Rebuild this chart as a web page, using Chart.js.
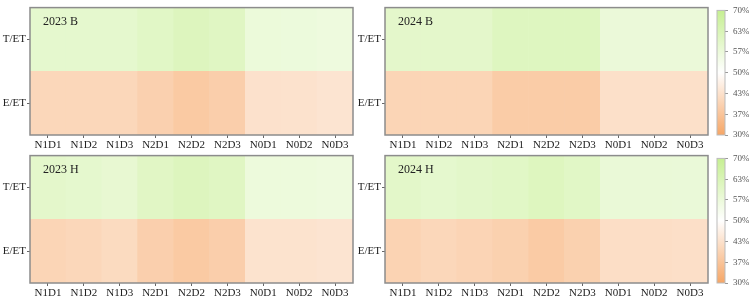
<!DOCTYPE html>
<html lang="en">
<head>
    <meta charset="UTF-8">
    <title>T/ET and E/ET heatmaps</title>
    <script src="https://cdn.jsdelivr.net/npm/chart.js"></script>
    <style>
        body {
            margin: 0;
            background: white;
            width: 749px;
            height: 300px;
            position: relative;
            overflow: hidden;
        }
        .box {
            position: absolute;
        }
    </style>
</head>
<body>
    <div class="box" style="left:0;top:0;width:360px;height:152px"><canvas id="c2023B"></canvas></div>
    <div class="box" style="left:355px;top:0;width:360px;height:152px"><canvas id="c2024B"></canvas></div>
    <div class="box" style="left:0;top:148px;width:360px;height:152px"><canvas id="c2023H"></canvas></div>
    <div class="box" style="left:355px;top:148px;width:360px;height:152px"><canvas id="c2024H"></canvas></div>
    <div class="box" style="left:710px;top:0;width:39px;height:152px"><canvas id="cbTop"></canvas></div>
    <div class="box" style="left:710px;top:148px;width:39px;height:152px"><canvas id="cbBottom"></canvas></div>
    <script>
        const treatments = ['N1D1', 'N1D2', 'N1D3', 'N2D1', 'N2D2', 'N2D3', 'N0D1', 'N0D2', 'N0D3'];
        const rowLabels = ['E/ET', 'T/ET'];

        // ratios
        const tet2023B = [0.59, 0.59, 0.59, 0.605, 0.62, 0.61, 0.567, 0.565, 0.56];
        const eet2023B = [0.41, 0.41, 0.41, 0.395, 0.38, 0.39, 0.433, 0.435, 0.44];
        const tet2024B = [0.595, 0.595, 0.595, 0.615, 0.615, 0.615, 0.57, 0.57, 0.57];
        const eet2024B = [0.405, 0.405, 0.405, 0.385, 0.385, 0.385, 0.43, 0.43, 0.43];
        const tet2023H = [0.595, 0.59, 0.582, 0.607, 0.62, 0.61, 0.564, 0.564, 0.56];
        const eet2023H = [0.405, 0.41, 0.418, 0.393, 0.38, 0.39, 0.436, 0.436, 0.44];
        const tet2024H = [0.60, 0.59, 0.597, 0.604, 0.617, 0.604, 0.574, 0.574, 0.572];
        const eet2024H = [0.40, 0.41, 0.403, 0.396, 0.383, 0.396, 0.426, 0.426, 0.428];

        const cbMin = 30, cbMax = 70;
        const cbTickLabels = ['30%', '37%', '43%', '50%', '57%', '63%', '70%'];

        const orange = [246, 166, 102];
        const white = [255, 255, 255];
        const green = [198, 239, 146];
        const serif = '"Liberation Serif", "DejaVu Serif", serif';

        function mix(a, b, t) {
            return 'rgb(' + a.map((v, i) => Math.round(v + (b[i] - v) * t)).join(',') + ')';
        }
        function ratioColor(r) {
            const p = r * 100;
            if (p <= 50) return mix(white, orange, Math.min(1, (50 - p) / 20));
            return mix(white, green, Math.min(1, (p - 50) / 20));
        }

        const framePlugin = {
            id: 'frame',
            afterDatasetsDraw(chart, args, opts) {
                const a = chart.chartArea;
                const ctx = chart.ctx;
                ctx.save();
                ctx.strokeStyle = opts.color || '#8c8c8c';
                ctx.lineWidth = opts.width || 1.5;
                ctx.strokeRect(a.left, a.top, a.right - a.left, a.bottom - a.top);
                if (opts.text) {
                    ctx.fillStyle = '#222';
                    ctx.font = '12px ' + serif;
                    ctx.textBaseline = 'alphabetic';
                    ctx.fillText(opts.text, a.left + 13, a.top + 17);
                }
                ctx.restore();
            }
        };

        function heatmap(id, title, tet, eet) {
            new Chart(document.getElementById(id), {
                type: 'bar',
                data: {
                    labels: treatments,
                    datasets: [
                        {
                            label: rowLabels[0],
                            data: eet.map(() => [0, 1]),
                            backgroundColor: eet.map(ratioColor),
                            borderWidth: 0,
                            barPercentage: 1,
                            categoryPercentage: 1
                        },
                        {
                            label: rowLabels[1],
                            data: tet.map(() => [1, 2]),
                            backgroundColor: tet.map(ratioColor),
                            borderWidth: 0,
                            barPercentage: 1,
                            categoryPercentage: 1
                        }
                    ]
                },
                options: {
                    responsive: true,
                    maintainAspectRatio: false,
                    animation: false,
                    layout: { padding: { top: 7, right: 7, left: 0, bottom: 0 } },
                    plugins: {
                        legend: { display: false },
                        tooltip: { enabled: false },
                        frame: { text: title }
                    },
                    scales: {
                        x: {
                            stacked: true,
                            grid: { offset: false, drawOnChartArea: false, tickLength: 3, color: '#666' },
                            border: { display: false },
                            ticks: { color: '#222', padding: 1, maxRotation: 0, font: { family: serif, size: 11 } },
                            afterFit(scale) { scale.height = 17; }
                        },
                        y: {
                            stacked: false,
                            min: 0,
                            max: 2,
                            grid: { drawOnChartArea: false, tickLength: 3, color: '#666' },
                            border: { display: false },
                            afterBuildTicks(scale) { scale.ticks = [{ value: 0.5 }, { value: 1.5 }]; },
                            ticks: {
                                color: '#222',
                                padding: 1,
                                font: { family: serif, size: 11 },
                                callback: v => rowLabels[v > 1 ? 1 : 0]
                            },
                            afterFit(scale) { scale.width = 30; }
                        }
                    }
                },
                plugins: [framePlugin]
            });
        }

        function colorbar(id) {
            new Chart(document.getElementById(id), {
                type: 'bar',
                data: {
                    labels: [''],
                    datasets: [{
                        data: [[cbMin, cbMax]],
                        backgroundColor(ctx) {
                            const a = ctx.chart.chartArea;
                            if (!a) return 'white';
                            const g = ctx.chart.ctx.createLinearGradient(0, a.bottom, 0, a.top);
                            g.addColorStop(0, mix(orange, orange, 0));
                            g.addColorStop(0.5, mix(white, white, 0));
                            g.addColorStop(1, mix(green, green, 0));
                            return g;
                        },
                        borderWidth: 0,
                        barPercentage: 1,
                        categoryPercentage: 1
                    }]
                },
                options: {
                    responsive: true,
                    maintainAspectRatio: false,
                    animation: false,
                    layout: { padding: { top: 7, right: 0, left: 7, bottom: 17 } },
                    plugins: {
                        legend: { display: false },
                        tooltip: { enabled: false },
                        frame: { color: '#bbb', width: 1 }
                    },
                    scales: {
                        x: { display: false },
                        y: {
                            position: 'right',
                            min: cbMin,
                            max: cbMax,
                            grid: { drawOnChartArea: false, tickLength: 3, color: '#999' },
                            border: { display: false },
                            afterBuildTicks(scale) {
                                scale.ticks = cbTickLabels.map((t, i) => ({ value: cbMin + i * (cbMax - cbMin) / (cbTickLabels.length - 1) }));
                            },
                            ticks: {
                                color: '#555',
                                padding: 5,
                                font: { family: serif, size: 9 },
                                callback: (v, i) => cbTickLabels[i]
                            },
                            afterFit(scale) { scale.width = 24; }
                        }
                    }
                },
                plugins: [framePlugin]
            });
        }

        heatmap('c2023B', '2023 B', tet2023B, eet2023B);
        heatmap('c2024B', '2024 B', tet2024B, eet2024B);
        heatmap('c2023H', '2023 H', tet2023H, eet2023H);
        heatmap('c2024H', '2024 H', tet2024H, eet2024H);
        colorbar('cbTop');
        colorbar('cbBottom');
    </script>
</body>
</html>
